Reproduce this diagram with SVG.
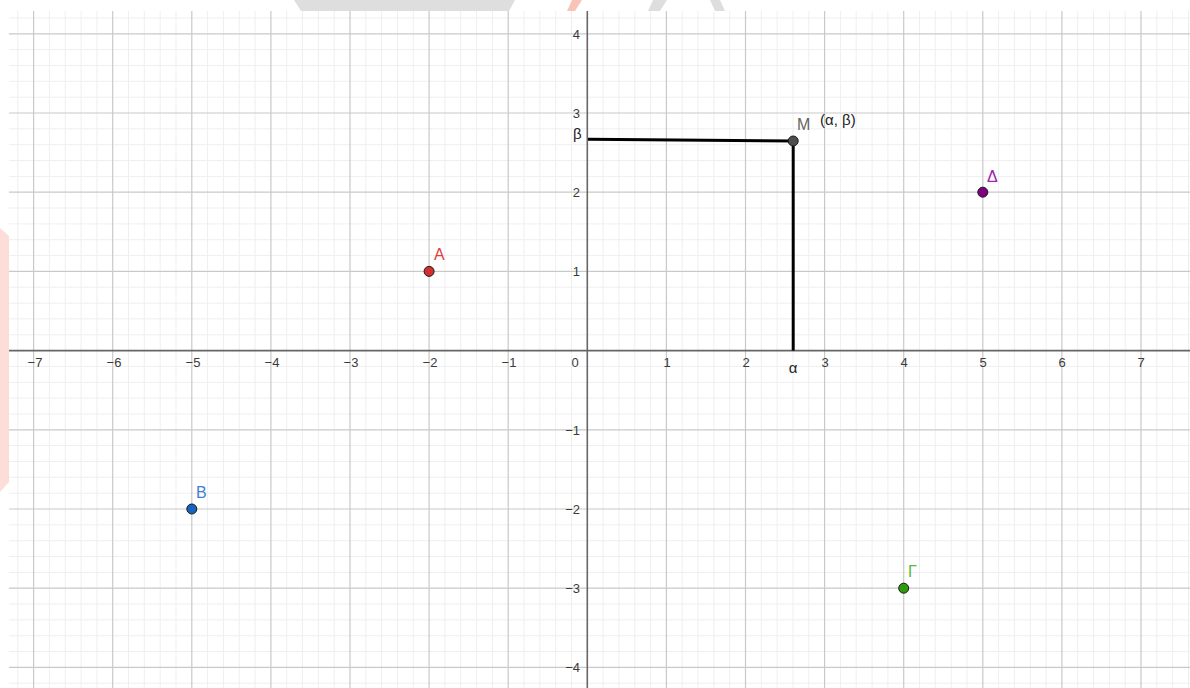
<svg xmlns="http://www.w3.org/2000/svg" width="1190" height="688" viewBox="0 0 1190 688">
  <defs>
    <clipPath id="plot"><rect x="9" y="11" width="1181" height="677"/></clipPath>
  </defs>
  <style>
    .minor { stroke: #efefef; stroke-width: 1; fill: none; }
    .major { stroke: #c9c9c9; stroke-width: 1.2; fill: none; }
    .axis { stroke: #666666; stroke-width: 1.6; fill: none; }
    .seg { stroke: #000000; stroke-width: 3; fill: none; stroke-linecap: butt; }
    .tick { font-family: "Liberation Sans", Arial, sans-serif; font-size: 13px; fill: #3a3a3a; }
    .tx { text-anchor: middle; }
    .ty { text-anchor: end; }
    .lbl { font-family: "Liberation Sans", Arial, sans-serif; font-size: 16px; }
    .greek { font-family: "Liberation Sans", Arial, sans-serif; font-size: 15px; fill: #222222; }
    .pt { stroke: #1a1a1a; stroke-width: 1; }
  </style>
  <rect x="0" y="0" width="1190" height="688" fill="#ffffff"/>

  <g id="watermark">
    <polygon points="294,0 515,0 509,11 301,11" fill="#dedede"/>
    <polygon points="572,0 582,0 575,11 567,11" fill="#f9c4b8"/>
    <polygon points="653,0 667,0 660,11 648,11" fill="#dedede"/>
    <polygon points="710,0 720,0 725,11 715,11" fill="#dedede"/>
    <polygon points="0,228 9,236 9,482 0,492" fill="#fdddd7"/>
  </g>

  <g id="grid" clip-path="url(#plot)">
    <path class="minor" d="M17.8,11V688 M49.4,11V688 M65.2,11V688 M81.1,11V688 M96.9,11V688 M128.5,11V688 M144.3,11V688 M160.2,11V688 M176,11V688 M207.6,11V688 M223.4,11V688 M239.3,11V688 M255.1,11V688 M286.7,11V688 M302.5,11V688 M318.4,11V688 M334.2,11V688 M365.8,11V688 M381.6,11V688 M397.5,11V688 M413.3,11V688 M444.9,11V688 M460.7,11V688 M476.6,11V688 M492.4,11V688 M524,11V688 M539.8,11V688 M555.7,11V688 M571.5,11V688 M603.1,11V688 M618.9,11V688 M634.8,11V688 M650.6,11V688 M682.2,11V688 M698,11V688 M713.9,11V688 M729.7,11V688 M761.3,11V688 M777.1,11V688 M793,11V688 M808.8,11V688 M840.4,11V688 M856.2,11V688 M872.1,11V688 M887.9,11V688 M919.5,11V688 M935.3,11V688 M951.2,11V688 M967,11V688 M998.6,11V688 M1014.4,11V688 M1030.3,11V688 M1046.1,11V688 M1077.7,11V688 M1093.5,11V688 M1109.4,11V688 M1125.2,11V688 M1156.8,11V688 M1172.6,11V688 M1188.5,11V688
      M9,18H1190 M9,49.6H1190 M9,65.5H1190 M9,81.3H1190 M9,97.2H1190 M9,128.8H1190 M9,144.7H1190 M9,160.5H1190 M9,176.4H1190 M9,208H1190 M9,223.9H1190 M9,239.7H1190 M9,255.6H1190 M9,287.2H1190 M9,303.1H1190 M9,318.9H1190 M9,334.8H1190 M9,366.4H1190 M9,382.3H1190 M9,398.1H1190 M9,414H1190 M9,445.6H1190 M9,461.5H1190 M9,477.3H1190 M9,493.2H1190 M9,524.8H1190 M9,540.7H1190 M9,556.5H1190 M9,572.4H1190 M9,604H1190 M9,619.9H1190 M9,635.7H1190 M9,651.6H1190 M9,683.2H1190"/>
    <path class="major" d="M33.6,11V688 M112.7,11V688 M191.8,11V688 M270.9,11V688 M350,11V688 M429.1,11V688 M508.2,11V688 M666.4,11V688 M745.5,11V688 M824.6,11V688 M903.7,11V688 M982.8,11V688 M1061.9,11V688 M1141,11V688
      M9,33.8H1190 M9,113H1190 M9,192.2H1190 M9,271.4H1190 M9,429.8H1190 M9,509H1190 M9,588.2H1190 M9,667.4H1190"/>
    <path class="axis" d="M587.3,11V688 M9,350.6H1190"/>
  </g>

  <g id="tick-labels" class="tick">
    <text class="tx" x="35" y="367">−7</text>
    <text class="tx" x="114" y="367">−6</text>
    <text class="tx" x="193" y="367">−5</text>
    <text class="tx" x="272" y="367">−4</text>
    <text class="tx" x="351" y="367">−3</text>
    <text class="tx" x="430" y="367">−2</text>
    <text class="tx" x="509" y="367">−1</text>
    <text class="tx" x="575" y="367">0</text>
    <text class="tx" x="667" y="367">1</text>
    <text class="tx" x="746" y="367">2</text>
    <text class="tx" x="825" y="367">3</text>
    <text class="tx" x="904" y="367">4</text>
    <text class="tx" x="983" y="367">5</text>
    <text class="tx" x="1062" y="367">6</text>
    <text class="tx" x="1141" y="367">7</text>
    <text class="ty" x="580" y="38.5">4</text>
    <text class="ty" x="580" y="117.5">3</text>
    <text class="ty" x="580" y="196.7">2</text>
    <text class="ty" x="580" y="276">1</text>
    <text class="ty" x="580" y="434.5">−1</text>
    <text class="ty" x="580" y="513.5">−2</text>
    <text class="ty" x="580" y="592.7">−3</text>
    <text class="ty" x="580" y="672">−4</text>
  </g>

  <g id="connectors">
    <line class="seg" x1="588" y1="139.2" x2="793.2" y2="141"/>
    <line class="seg" x1="793.2" y1="141" x2="793.2" y2="350.6"/>
    <text class="greek" x="573" y="139">β</text>
    <text class="greek" x="793" y="373" text-anchor="middle">α</text>
  </g>

  <g id="point-A">
    <circle class="pt" cx="429.1" cy="271.4" r="5" fill="#d32f2f"/>
    <text class="lbl" x="434" y="260" fill="#e03c3c">A</text>
  </g>
  <g id="point-B">
    <circle class="pt" cx="191.8" cy="509" r="5" fill="#1565c0"/>
    <text class="lbl" x="196" y="498" fill="#3d80d8">B</text>
  </g>
  <g id="point-Gamma">
    <circle class="pt" cx="903.7" cy="588.2" r="5" fill="#2f9a0c"/>
    <text class="lbl" x="908" y="577" fill="#5cb833">Γ</text>
  </g>
  <g id="point-Delta">
    <circle class="pt" cx="982.8" cy="192.2" r="5" fill="#800080"/>
    <text class="lbl" x="987" y="182" fill="#a020a8">Δ</text>
  </g>
  <g id="point-M">
    <circle class="pt" cx="793.2" cy="141" r="5" fill="#4d4d4d"/>
    <text class="lbl" x="797" y="130" fill="#666666">M</text>
    <text class="greek" x="820" y="125" fill="#333333">(α, β)</text>
  </g>
</svg>
